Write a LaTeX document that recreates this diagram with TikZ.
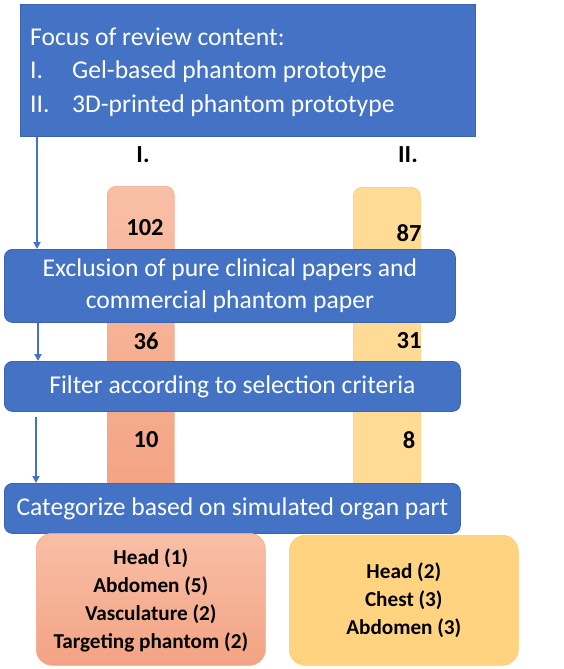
\documentclass[tikz,border=0pt]{standalone}
\usepackage{fontspec}
\setmainfont{Carlito}
\usetikzlibrary{arrows.meta}
\definecolor{ofblue}{HTML}{4472C4}
\definecolor{ofblueedge}{HTML}{3B64AE}
\definecolor{salmonT}{HTML}{F8BFA6}
\definecolor{salmonB}{HTML}{F3A383}
\definecolor{salmonE}{HTML}{F2A888}
\definecolor{goldT}{HTML}{FFDB96}
\definecolor{goldB}{HTML}{FFD37F}
\definecolor{goldE}{HTML}{FFCB66}
\tikzset{
  bluebox/.style={fill=ofblue, draw=ofblueedge, line width=0.8pt, rounded corners=8pt, text=white, font=\fontsize{25.6}{32}\selectfont, align=center, inner sep=0pt},
  colL/.style={top color=salmonT, bottom color=salmonB, draw=salmonE, line width=0.6pt, rounded corners=9pt, inner sep=0pt},
  colR/.style={fill=goldT, draw=goldE, line width=0.6pt, rounded corners=9pt, inner sep=0pt},
  numlbl/.style={font=\bfseries\fontsize{24.5}{26}\selectfont, inner sep=0pt},
  catlbl/.style={font=\bfseries\fontsize{21.2}{27.8}\selectfont, align=center, inner sep=0pt},
  flowarrow/.style={draw=ofblue, line width=1.8pt, -{Triangle[length=7pt,width=7pt]}},
}
\begin{document}
\begin{tikzpicture}[x=1pt,y=-1pt]
\useasboundingbox (0,0) rectangle (564,669);
% columns
\node[colL, minimum width=67pt, minimum height=310pt, anchor=north west] (colI) at (107,186) {};
\node[colR, minimum width=67pt, minimum height=310pt, anchor=north west] (colII) at (353,187) {};
% top box
\node[fill=ofblue, draw=ofblueedge, line width=0.8pt, minimum width=455pt, minimum height=132pt, anchor=north west, inner sep=0pt] (focus) at (20,4) {};
\node[anchor=west, text=white, font=\fontsize{25.6}{33.5}\selectfont, align=left, inner sep=0pt] (focustxt) at (30,72)
  {Focus of review content:\\\makebox[42pt][l]{I.}Gel-based phantom prototype\\\makebox[42pt][l]{II.}3D-printed phantom prototype};
% column labels
\node[numlbl] (lblI) at (143,155) {I.};
\node[numlbl] (lblII) at (408,155) {II.};
% numbers
\node[numlbl] (n102) at (145,228) {102};
\node[numlbl] (n87) at (409,233) {87};
\node[numlbl] (n36) at (146,341) {36};
\node[numlbl] (n31) at (409,341) {31};
\node[numlbl] (n10) at (146,440) {10};
\node[numlbl] (n8) at (409,440) {8};
% blue process boxes
\node[bluebox, minimum width=451pt, minimum height=73pt, anchor=north west] (excl) at (4,249)
  {Exclusion of pure clinical papers and\\commercial phantom paper};
\node[bluebox, minimum width=456pt, minimum height=50pt, anchor=north west] (filt) at (4,361)
  {Filter according to selection criteria};
\node[bluebox, minimum width=456pt, minimum height=50pt, anchor=north west] (cat) at (4,483)
  {Categorize based on simulated organ part};
% result boxes
\node[top color=salmonT, bottom color=salmonB, draw=salmonE, line width=0.6pt, rounded corners=16pt, minimum width=229pt, minimum height=132pt, anchor=north west, inner sep=0pt] (resI) at (36,533) {};
\node[catlbl] at ([yshift=-1pt]resI.center) {Head (1)\\Abdomen (5)\\Vasculature (2)\\Targeting phantom (2)};
\node[fill=goldB, draw=goldE, line width=0.6pt, rounded corners=16pt, minimum width=229pt, minimum height=130pt, anchor=north west, inner sep=0pt] (resII) at (289,535) {};
\node[catlbl] at ([yshift=0pt]resII.center) {Head (2)\\Chest (3)\\Abdomen (3)};
% arrows
\coordinate (a1s) at (focus.south west -| 37,0);
\coordinate (a1e) at (excl.north west -| 37,0);
\draw[flowarrow] (a1s) -- (a1e);
\coordinate (a2s) at (excl.south west -| 38,0);
\coordinate (a2e) at (filt.north west -| 38,0);
\draw[flowarrow] (a2s) -- (a2e);
\coordinate (a3s) at (36,417);
\coordinate (a3e) at (cat.north west -| 36,0);
\draw[flowarrow] (a3s) -- (a3e);
\end{tikzpicture}
\end{document}
